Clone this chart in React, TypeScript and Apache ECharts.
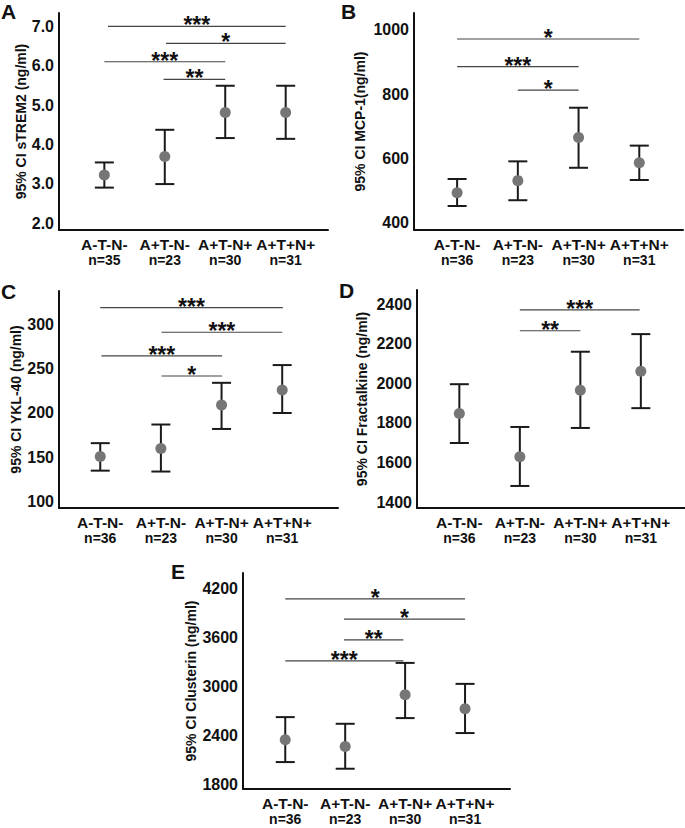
import React, { useEffect, useRef } from "react";
import * as echarts from "echarts";

const groups = ["A-T-N-", "A+T-N-", "A+T-N+", "A+T+N+"];
const nA = [35, 23, 30, 31];
const nOther = [36, 23, 30, 31];

// A: sTREM2
const strem2Mean = [3.22, 3.69, 4.81, 4.81];
const strem2Low = [2.9, 2.99, 4.16, 4.14];
const strem2High = [3.54, 4.37, 5.49, 5.49];
const strem2Ticks = [2, 3, 4, 5, 6, 7];
const strem2Sig = [
  [1.06, 4.0, 7.0],
  [2.02, 4.0, 6.57],
  [1.0, 3.0, 6.1],
  [1.98, 3.0, 5.65],
];
const strem2SigLabels = ["***", "*", "***", "**"];

// B: MCP-1
const mcpMean = [493, 531, 665, 587];
const mcpLow = [452, 470, 571, 533];
const mcpHigh = [536, 591, 758, 640];
const mcpTicks = [400, 600, 800, 1000];
const mcpSig = [
  [1.0, 4.0, 972],
  [1.0, 3.0, 886],
  [2.0, 3.0, 813],
];
const mcpSigLabels = ["*", "***", "*"];

// C: YKL-40
const yklMean = [151, 160, 209, 226];
const yklLow = [135, 134, 182, 200];
const yklHigh = [166, 187, 234, 254];
const yklTicks = [100, 150, 200, 250, 300];
const yklSig = [
  [1.0, 4.01, 318.7],
  [2.01, 4.0, 291],
  [1.02, 3.01, 264.3],
  [2.01, 3.01, 241.7],
];
const yklSigLabels = ["***", "***", "***", "*"];

// D: Fractalkine
const fracMean = [1847, 1628, 1965, 2060];
const fracLow = [1698, 1481, 1774, 1874];
const fracHigh = [1995, 1779, 2159, 2248];
const fracTicks = [1400, 1600, 1800, 2000, 2200, 2400];
const fracSig = [
  [2.0, 3.98, 2370],
  [2.0, 3.0, 2265],
];
const fracSigLabels = ["***", "**"];

// E: Clusterin
const clusMean = [2344, 2262, 2897, 2725];
const clusLow = [2070, 1988, 2611, 2427];
const clusHigh = [2623, 2541, 3290, 3032];
const clusTicks = [1800, 2400, 3000, 3600, 4200];
const clusSig = [
  [1.0, 4.0, 4077],
  [1.98, 4.0, 3828],
  [1.98, 2.97, 3573],
  [1.0, 2.97, 3315],
];
const clusSigLabels = ["*", "*", "**", "***"];

const FONT = '"Liberation Sans", Arial, Helvetica, sans-serif';

const panels = [
  {
    letter: "A", lx: 1, ly: 1, title: "95% CI sTREM2 (ng/ml)",
    grid: { left: 59, top: 13, width: 269, height: 217 },
    xMin: 0.25, xMax: 4.7, yMin: 1.822, yMax: 7.34, ticks: strem2Ticks, dec: 1,
    mean: strem2Mean, low: strem2Low, high: strem2High, n: nA,
    sig: strem2Sig, sigLabels: strem2SigLabels, nameGap: 31,
  },
  {
    letter: "B", lx: 341, ly: 1, title: "95% CI MCP-1(ng/ml)",
    grid: { left: 414, top: 13, width: 269, height: 217 },
    xMin: 0.29, xMax: 4.72, yMin: 377.3, yMax: 1052.9, ticks: mcpTicks, dec: 0,
    mean: mcpMean, low: mcpLow, high: mcpHigh, n: nOther,
    sig: mcpSig, sigLabels: mcpSigLabels, nameGap: 47,
  },
  {
    letter: "C", lx: 1, ly: 281, title: "95% CI YKL-40 (ng/ml)",
    grid: { left: 59, top: 291, width: 279, height: 217 },
    xMin: 0.32, xMax: 4.92, yMin: 92.9, yMax: 337.5, ticks: yklTicks, dec: 0,
    mean: yklMean, low: yklLow, high: yklHigh, n: nOther,
    sig: yklSig, sigLabels: yklSigLabels, nameGap: 31,
  },
  {
    letter: "D", lx: 339, ly: 280, title: "95% CI Fractalkine (ng/ml)",
    grid: { left: 417, top: 290, width: 268, height: 218 },
    xMin: 0.3, xMax: 4.73, yMin: 1369.7, yMax: 2470.8, ticks: fracTicks, dec: 0,
    mean: fracMean, low: fracLow, high: fracHigh, n: nOther,
    sig: fracSig, sigLabels: fracSigLabels, nameGap: 48,
  },
  {
    letter: "E", lx: 171, ly: 561, title: "95% CI Clusterin (ng/ml)",
    grid: { left: 243, top: 573, width: 267, height: 216 },
    xMin: 0.295, xMax: 4.75, yMin: 1738.6, yMax: 4396, ticks: clusTicks, dec: 0,
    mean: clusMean, low: clusLow, high: clusHigh, n: nOther,
    sig: clusSig, sigLabels: clusSigLabels, nameGap: 45,
  },
];

function buildOption() {
  const grid: any[] = [];
  const xAxis: any[] = [];
  const yAxis: any[] = [];
  const series: any[] = [];
  const graphic: any[] = [];

  panels.forEach((p, i) => {
    grid.push({ ...p.grid, containLabel: false });
    xAxis.push({
      type: "value", gridIndex: i, min: p.xMin, max: p.xMax,
      splitLine: { show: false }, axisTick: { show: false },
      axisLine: { show: true, onZero: false, lineStyle: { color: "#111", width: 2 } },
      axisLabel: {
        customValues: [1, 2, 3, 4],
        margin: 7,
        formatter: (v: number) => {
          const k = Math.round(v) - 1;
          return `{g|${groups[k]}}\n{n|n=${p.n[k]}}`;
        },
        rich: {
          g: { fontFamily: FONT, fontSize: 15.5, fontWeight: "bold", color: "#111", lineHeight: 15 },
          n: { fontFamily: FONT, fontSize: 14, fontWeight: "bold", color: "#111", lineHeight: 15 },
        },
      },
    });
    yAxis.push({
      type: "value", gridIndex: i, min: p.yMin, max: p.yMax,
      splitLine: { show: false }, axisTick: { show: false },
      axisLine: { show: true, onZero: false, lineStyle: { color: "#111", width: 2 } },
      axisLabel: {
        customValues: p.ticks, margin: 5,
        fontFamily: FONT, fontSize: 16, fontWeight: "bold", color: "#111",
        formatter: (v: number) => v.toFixed(p.dec),
      },
      name: p.title, nameLocation: "middle", nameGap: p.nameGap, nameRotate: 90,
      nameTextStyle: { fontFamily: FONT, fontSize: 14, fontWeight: "bold", color: "#111" },
    });
    // error bars
    series.push({
      type: "custom", xAxisIndex: i, yAxisIndex: i,
      data: p.mean.map((_, k) => [k + 1, p.low[k], p.high[k]]),
      encode: { x: 0, y: [1, 2] },
      renderItem: (params: any, api: any) => {
        const x = api.value(0);
        const lo = api.coord([x, api.value(1)]);
        const hi = api.coord([x, api.value(2)]);
        const hw = 9.5;
        const st = { stroke: "#1a1a1a", lineWidth: 2 };
        return {
          type: "group",
          children: [
            { type: "line", shape: { x1: lo[0], y1: lo[1], x2: hi[0], y2: hi[1] }, style: st },
            { type: "line", shape: { x1: lo[0] - hw, y1: lo[1], x2: lo[0] + hw, y2: lo[1] }, style: st },
            { type: "line", shape: { x1: hi[0] - hw, y1: hi[1], x2: hi[0] + hw, y2: hi[1] }, style: st },
          ],
        };
      },
      z: 2,
    });
    // means
    series.push({
      type: "scatter", xAxisIndex: i, yAxisIndex: i,
      data: p.mean.map((m, k) => [k + 1, m]),
      symbol: "circle", symbolSize: 11,
      itemStyle: { color: "#767676", opacity: 1 },
      z: 3,
    });
    // significance brackets
    const labels = p.sigLabels;
    series.push({
      type: "custom", xAxisIndex: i, yAxisIndex: i,
      data: p.sig,
      encode: { x: [0, 1], y: 2 },
      renderItem: (params: any, api: any) => {
        const y = api.value(2);
        const a = api.coord([api.value(0), y]);
        const b = api.coord([api.value(1), y]);
        return {
          type: "group",
          children: [
            { type: "line", shape: { x1: a[0], y1: a[1], x2: b[0], y2: b[1] }, style: { stroke: "#444", lineWidth: 1.2 } },
            {
              type: "text", x: (a[0] + b[0]) / 2, y: a[1] - 1,
              style: {
                text: labels[params.dataIndex], fill: "#111",
                font: `bold 23px ${FONT}`, textAlign: "center", textVerticalAlign: "middle",
              },
            },
          ],
        };
      },
      z: 4,
    });
    graphic.push({
      type: "text", left: p.lx, top: p.ly,
      style: { text: p.letter, fill: "#111", font: `bold 21px ${FONT}` },
    });
  });

  return { animation: false, backgroundColor: "#fff", grid, xAxis, yAxis, series, graphic };
}

export default function App() {
  const ref = useRef<HTMLDivElement>(null);
  useEffect(() => {
    document.body.style.margin = "0";
    const chart = echarts.init(ref.current!, undefined, { renderer: "svg" });
    chart.setOption(buildOption() as any);
    return () => chart.dispose();
  }, []);
  return <div ref={ref} style={{ width: 685, height: 828 }} />;
}
